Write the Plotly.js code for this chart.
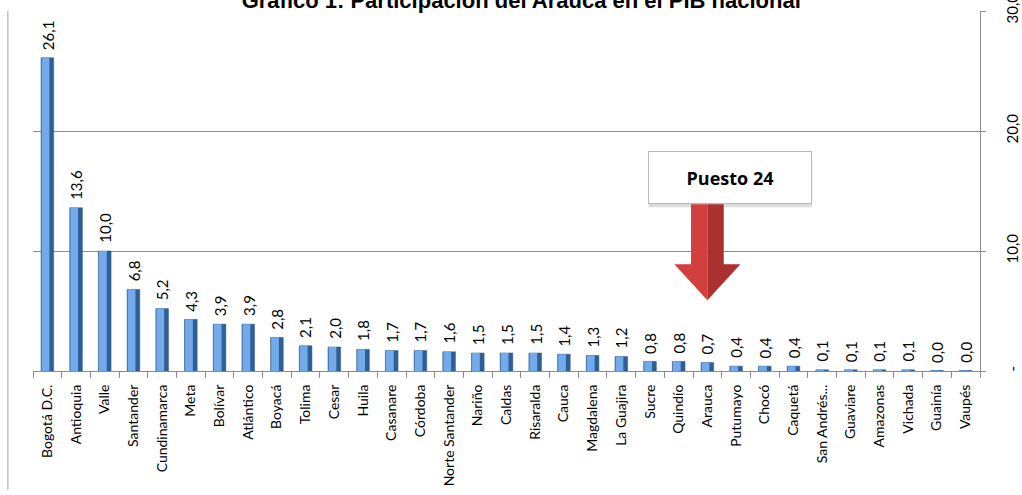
<!DOCTYPE html>
<html>
<head>
<meta charset="utf-8">
<script src="https://cdn.plot.ly/plotly-3.0.1.min.js"></script>
<style>html,body{margin:0;padding:0;background:#fff;}#chart{width:1022px;height:495px;}</style>
</head>
<body>
<div id="chart"></div>
<script>
const categories = ["Bogotá D.C.","Antioquia","Valle","Santander","Cundinamarca","Meta","Bolívar","Atlántico","Boyacá","Tolima","Cesar","Huila","Casanare","Córdoba","Norte Santander","Nariño","Caldas","Risaralda","Cauca","Magdalena","La Guajira","Sucre","Quindío","Arauca","Putumayo","Chocó","Caquetá","San Andrés...","Guaviare","Amazonas","Vichada","Guainía","Vaupés"];
const values = [26.1,13.6,10.0,6.8,5.2,4.3,3.9,3.9,2.8,2.1,2.0,1.8,1.7,1.7,1.6,1.5,1.5,1.5,1.4,1.3,1.2,0.8,0.8,0.7,0.4,0.4,0.4,0.1,0.1,0.1,0.1,0.04,0.04];
const yTickVals = [0,10,20,30];
const yTickText = ["-","10,0","20,0","30,0"];
const titleText = "Gráfico 1: Participación del Arauca en el PIB nacional";
const highlight = "Arauca";
const highlightLabel = "Puesto 24";

const hi = categories.indexOf(highlight);

const dark = {
  type:'bar', x:categories, y:values, width:0.44,
  marker:{color:'#2f5f98', line:{color:'#27507f', width:0.5}},
  hoverinfo:'skip', showlegend:false
};
const light = {
  type:'bar', x:categories, y:values, width:0.27, offset:-0.2,
  marker:{color:'#72aaea', line:{width:0}},
  hoverinfo:'skip', showlegend:false
};

const labelFont = {family:'Lato, sans-serif', size:15, color:'#000'};
const valueLabels = categories.map((c, i) => ({
  xref:'x', yref:'y', x:c, y:values[i], yanchor:'bottom', yshift:6,
  text:values[i].toFixed(1).replace('.', ','), textangle:-90, showarrow:false, font:labelFont
}));

const shapes = [
  {type:'line', xref:'paper', yref:'paper', x0:-0.0265, x1:-0.0265, y0:-0.33, y1:1.0, line:{color:'#a0a0a0', width:1}},
  {type:'rect', xref:'x', yref:'y', x0:hi-2.05, x1:hi+3.65, y0:13.65, y1:17.9, fillcolor:'#dcdcdc', line:{width:0}, layer:'above'},
  {type:'path', xref:'x', yref:'y', path:`M ${hi-0.57} 13.9 L ${hi} 13.9 L ${hi} 5.9 L ${hi-1.15} 8.9 L ${hi-0.57} 8.9 Z`, fillcolor:'#d23f3f', line:{width:0}, layer:'above'},
  {type:'path', xref:'x', yref:'y', path:`M ${hi} 13.9 L ${hi+0.57} 13.9 L ${hi+0.57} 8.9 L ${hi+1.15} 8.9 L ${hi} 5.9 Z`, fillcolor:'#ad3030', line:{width:0}, layer:'above'}
];

const layout = {
  width:1022, height:495,
  margin:{l:33, r:42, t:11, b:124, pad:0},
  paper_bgcolor:'#fff', plot_bgcolor:'#fff',
  separators:',.',
  barmode:'overlay',
  title:{text:'<b>'+titleText+'</b>', x:0.51, xanchor:'center', y:1.0, yref:'container', yanchor:'middle',
         font:{family:'Liberation Sans, Arial, sans-serif', size:22, color:'#000'}},
  xaxis:{type:'category', tickangle:-90, tickson:'boundaries', ticks:'outside', ticklen:6, tickcolor:'#8c8c8c',
         showline:true, linecolor:'#8c8c8c', linewidth:1, showgrid:false, ticklabelstandoff:7,
         tickfont:{family:'Lato, sans-serif', size:14, color:'#000'}, fixedrange:true},
  yaxis:{side:'right', range:[0,30], tickvals:yTickVals, ticktext:yTickText, tickangle:-90,
         ticks:'outside', ticklen:5, tickcolor:'#8c8c8c', showline:true, linecolor:'#8c8c8c', linewidth:1,
         showgrid:true, gridcolor:'#8c8c8c', gridwidth:1, zeroline:false, ticklabeloverflow:'allow',
         ticklabelstandoff:14,
         tickfont:{family:'Lato, sans-serif', size:15, color:'#000'}, fixedrange:true},
  shapes:shapes,
  annotations:valueLabels.concat([
    {xref:'x', yref:'y', x:hi+0.8, y:16.1, text:'<b>'+highlightLabel+'</b>', showarrow:false,
     bgcolor:'#fff', bordercolor:'#b8b8b8', borderwidth:1, width:160, height:49,
     font:{family:'Open Sans, sans-serif', size:18, color:'#000'}}
  ])
};

Plotly.newPlot('chart', [dark, light], layout, {staticPlot:true, displayModeBar:false});
</script>
</body>
</html>
